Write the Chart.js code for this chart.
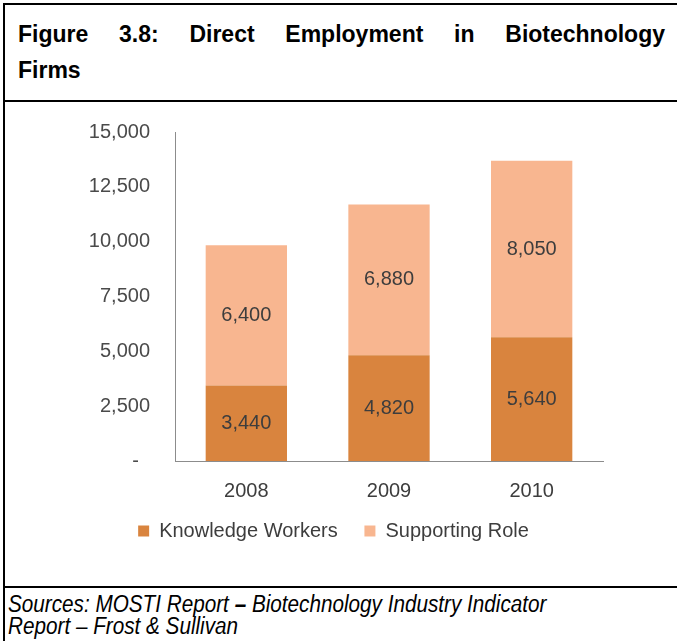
<!DOCTYPE html>
<html>
<head>
<meta charset="utf-8">
<script src="https://cdn.jsdelivr.net/npm/chart.js"></script>
<style>
  html, body { margin: 0; padding: 0; background: #fff; }
  #page { position: relative; width: 677px; height: 641px; overflow: hidden; background: #fff; }
  .rule { position: absolute; background: #000; }
  .title { position: absolute; left: 18px; width: 647px; font-family: "Liberation Sans Narrow", "Arial Narrow", "Liberation Sans", sans-serif;
           font-weight: bold; font-size: 23px; line-height: 36px; color: #000; white-space: nowrap; }
  .title.l1 { top: 16px; text-align: justify; text-align-last: justify; white-space: normal; }
  .title.l2 { top: 52px; }
  .src { position: absolute; left: 8px; top: 593px; font-family: "Liberation Sans Narrow", "Arial Narrow", "Liberation Sans", sans-serif;
         font-style: italic; font-size: 23px; line-height: 22px; color: #000; white-space: nowrap;
         transform: scaleX(0.9); transform-origin: left top; }
  /* le canevas deborde un peu vers le haut : il est transparent */
  #wrap { position: absolute; left: 0; top: 95px; width: 677px; height: 491px; }
</style>
</head>
<body>
<div id="page">
  <div class="rule" style="left:3px;top:3px;width:2px;height:638px"></div>
  <div class="rule" style="left:3px;top:3px;width:674px;height:2px"></div>
  <div class="rule" style="left:3px;top:100px;width:674px;height:2px"></div>
  <div class="rule" style="left:3px;top:586px;width:674px;height:2px"></div>

  <div class="title l1">Figure 3.8: Direct Employment in Biotechnology</div>
  <div class="title l2">Firms</div>

  <div id="wrap"><canvas id="empChart" width="677" height="491"></canvas></div>

  <div class="src">Sources: MOSTI Report <b>–</b> Biotechnology Industry Indicator<br>Report – Frost &amp; Sullivan</div>
</div>

<script>
// donnees
const years = ['2008', '2009', '2010'];
const knowledgeWorkers = [3440, 4820, 5640];
const supportingRole = [6400, 6880, 8050];
const yTicks = [0, 2500, 5000, 7500, 10000, 12500, 15000];

const FONT = '"Liberation Sans", Arial, sans-serif';

// etiquettes de valeur au centre de chaque segment
const valueLabels = {
    id: 'valueLabels',
    afterDatasetsDraw(chart) {
        const ctx = chart.ctx;
        ctx.save();
        ctx.font = '20px ' + FONT;
        ctx.fillStyle = '#3d3d3d';
        ctx.textAlign = 'center';
        ctx.textBaseline = 'middle';
        chart.data.datasets.forEach((ds, i) => {
            const meta = chart.getDatasetMeta(i);
            meta.data.forEach((bar, j) => {
                const y = (bar.y + bar.base) / 2;
                ctx.fillText(ds.data[j].toLocaleString('en-US'), bar.x, y);
            });
        });
        ctx.restore();
    }
};

const ctx = document.getElementById('empChart');
new Chart(ctx, {
    type: 'bar',
    data: {
        labels: years,
        datasets: [{
            label: 'Knowledge Workers',
            data: knowledgeWorkers,
            backgroundColor: '#d9843e',
            barPercentage: 0.57,
            categoryPercentage: 1
        }, {
            label: 'Supporting Role',
            data: supportingRole,
            backgroundColor: '#f8b690',
            barPercentage: 0.57,
            categoryPercentage: 1
        }]
    },
    options: {
        responsive: false,
        animation: false,
        layout: { padding: { left: 0, right: 10, top: 37, bottom: 35 } },
        plugins: {
            legend: {
                position: 'bottom',
                labels: {
                    boxWidth: 11,
                    boxHeight: 11,
                    padding: 10,
                    color: '#3d3d3d',
                    font: { family: FONT, size: 20 },
                    // espace plus large entre les deux entrees
                    generateLabels(chart) {
                        const items = Chart.defaults.plugins.legend.labels.generateLabels(chart);
                        if (items.length) items[0].text += '   ';
                        return items;
                    }
                }
            },
            tooltip: { enabled: false }
        },
        scales: {
            x: {
                stacked: true,
                grid: { display: false, drawTicks: false },
                border: { display: true, color: '#8c8c8c', width: 1 },
                ticks: { color: '#3d3d3d', padding: 18, font: { family: FONT, size: 20 } },
                afterFit(scale) { scale.height = 50; }
            },
            y: {
                stacked: true,
                min: 0,
                max: 15000,
                afterBuildTicks(scale) { scale.ticks = yTicks.map(v => ({ value: v })); },
                grid: { display: false, drawTicks: false },
                border: { display: true, color: '#8c8c8c', width: 1 },
                ticks: {
                    color: '#4a4a4a',
                    padding: 25,
                    font: { family: FONT, size: 20 },
                    callback: v => v === 0 ? '-  ' : v.toLocaleString('en-US')
                },
                afterFit(scale) { scale.width = 175; }
            },
            // axe vide a droite pour garder la zone de trace
            yRight: {
                position: 'right',
                display: true,
                grid: { display: false, drawTicks: false },
                border: { display: false },
                ticks: { display: false },
                afterFit(scale) { scale.width = 64; }
            }
        }
    },
    plugins: [valueLabels]
});
</script>
</body>
</html>
